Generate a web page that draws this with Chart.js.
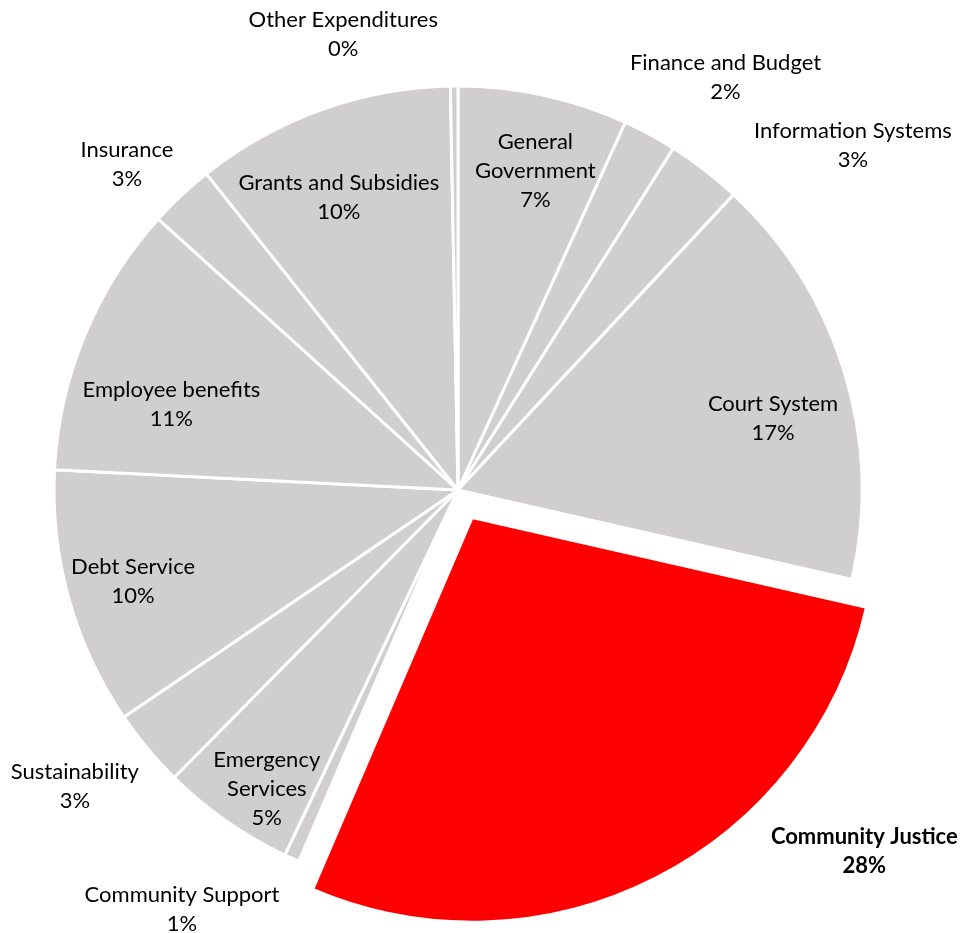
<!DOCTYPE html>
<html><head><meta charset="utf-8">
<script src="https://cdn.jsdelivr.net/npm/chart.js@4.4.1/dist/chart.umd.min.js"></script>
<style>html,body{margin:0;padding:0;background:#fff}#wrap{width:961px;height:933px;position:relative}</style>
</head><body><div id="wrap"><canvas id="c"></canvas></div>
<script>
// Slices clockwise from 12 o'clock
const categories = [
  ['General', 'Government'],
  ['Finance and Budget'],
  ['Information Systems'],
  ['Court System'],
  ['Community Justice'],
  ['Community Support'],
  ['Emergency', 'Services'],
  ['Sustainability'],
  ['Debt Service'],
  ['Employee benefits'],
  ['Insurance'],
  ['Grants and Subsidies'],
  ['Other Expenditures']
];
const shares = [6.8, 2.15, 3.0, 16.6, 27.9, 0.6, 5.35, 3.1, 10.3, 10.9, 2.6, 10.4, 0.3];
const highlightIndex = 4;

// label placement: [angle clockwise from top in degrees, distance as fraction of radius]
const placement = [
  [13.6, 0.814], [32.9, 1.219], [48.8, 1.299], [77.1, 0.80], [131.6, 1.345],
  [213.4, 1.241], [212.7, 0.876], [232.4, 1.197], [254.4, 0.835], [286.8, 0.741],
  [314.6, 1.151], [337.9, 0.784], [345.9, 1.166]
];

const GREY = '#D0CECE', RED = '#FF0000';
const colors = shares.map((_, i) => i === highlightIndex ? RED : GREY);
// Chart.js translates an arc by offset/4 pixels
const offsets = shares.map((_, i) => i === highlightIndex ? 124 : 0);

const labelPlugin = {
  id: 'sliceLabels',
  afterDatasetsDraw(chart) {
    const ctx = chart.ctx;
    const meta = chart.getDatasetMeta(0);
    const total = shares.reduce((a, b) => a + b, 0);
    meta.data.forEach((arc, i) => {
      const p = arc.getProps(['x', 'y', 'outerRadius'], true);
      const [deg, f] = placement[i];
      const a = deg * Math.PI / 180;
      const px = p.x + f * p.outerRadius * Math.sin(a);
      const py = p.y - f * p.outerRadius * Math.cos(a);
      const lines = [...categories[i], Math.round(shares[i] / total * 100) + '%'];
      ctx.save();
      ctx.font = (i === highlightIndex ? 'bold ' : '') + '22px Lato';
      ctx.fillStyle = '#000';
      ctx.textAlign = 'center';
      ctx.textBaseline = 'middle';
      const lh = 29;
      lines.forEach((t, k) => ctx.fillText(t, px, py + 1 + (k - (lines.length - 1) / 2) * lh));
      ctx.restore();
    });
  }
};

new Chart(document.getElementById('c'), {
  type: 'pie',
  data: {
    labels: categories.map(c => c.join(' ')),
    datasets: [{
      data: shares,
      backgroundColor: colors,
      borderColor: '#FFFFFF',
      borderWidth: 3,
      hoverBorderWidth: 3,
      offset: offsets,
      hoverOffset: 0
    }]
  },
  options: {
    responsive: true,
    maintainAspectRatio: false,
    animation: false,
    events: [],
    radius: 404,
    layout: { padding: { left: 0, right: 45, top: 47, bottom: 0 } },
    plugins: { legend: { display: false }, tooltip: { enabled: false } }
  },
  plugins: [labelPlugin]
});
</script>
</body></html>
